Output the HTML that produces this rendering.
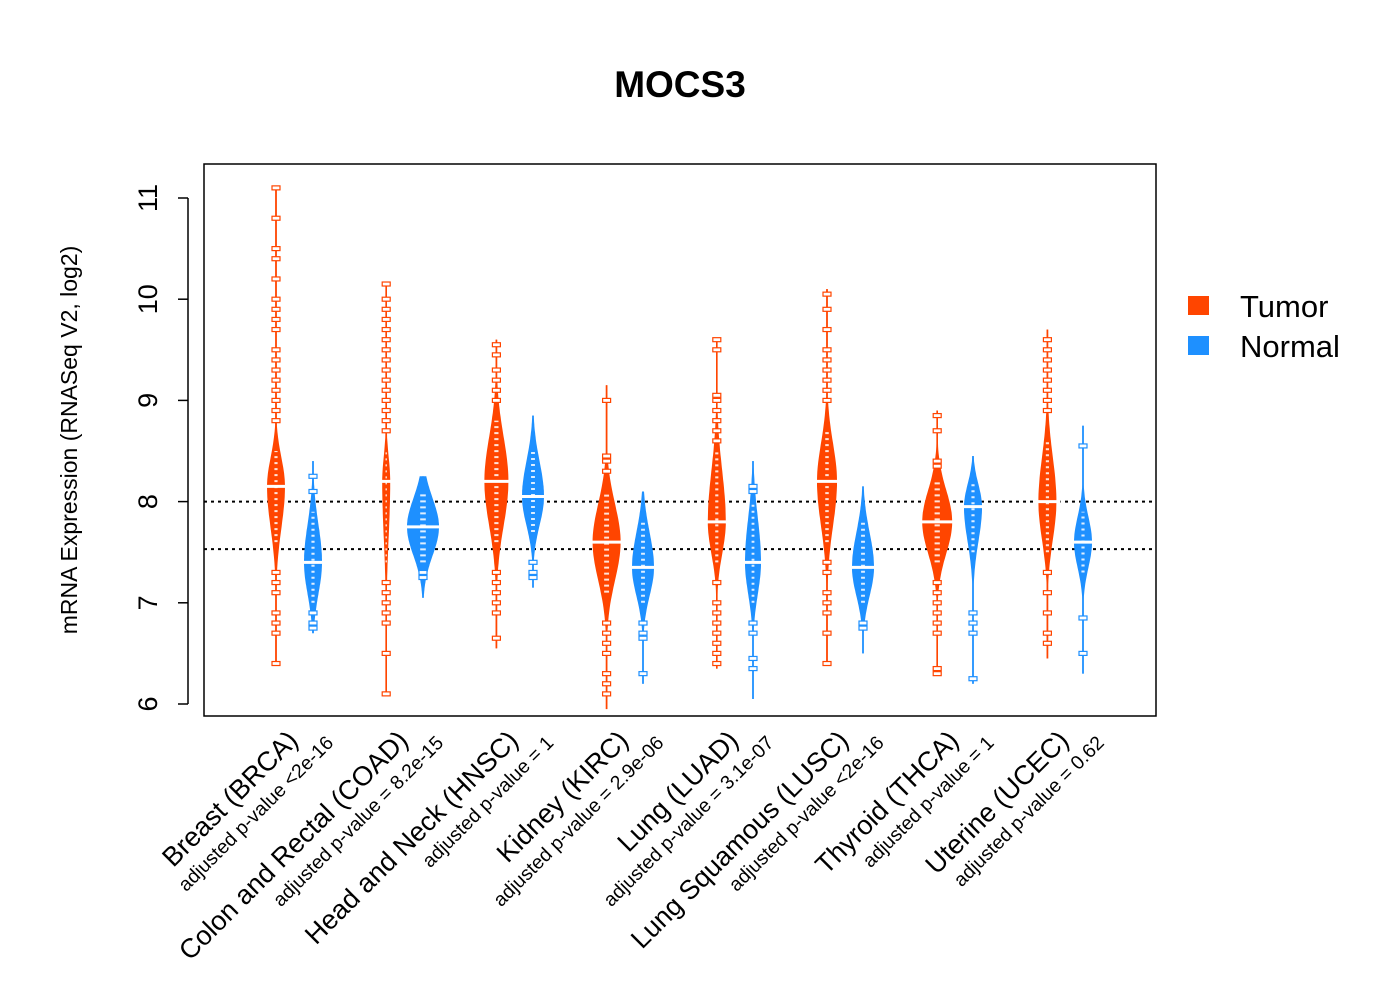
<!DOCTYPE html>
<html><head><meta charset="utf-8"><style>
body{margin:0;background:#fff}
svg{display:block;font-family:"Liberation Sans",Arial,sans-serif}
</style></head><body>
<svg id="chart" width="1400" height="1000" viewBox="0 0 1400 1000">
<rect width="1400" height="1000" fill="#fff"/>
<text x="680" y="97" text-anchor="middle" font-size="37" font-weight="bold">MOCS3</text>
<g id="plot"></g>
<rect x="204" y="164" width="952" height="552" fill="none" stroke="#000" stroke-width="1.5"/>
<text transform="translate(77,440) rotate(-90)" text-anchor="middle" font-size="23">mRNA Expression (RNASeq V2, log2)</text>
<g id="yaxis"></g>
<g id="xlabels"></g>
<g>
<rect x="1188" y="296" width="21" height="19" fill="#ff4500"/>
<text x="1240" y="317" font-size="31">Tumor</text>
<rect x="1188" y="336" width="21" height="19" fill="#1e90ff"/>
<text x="1240" y="357" font-size="31">Normal</text>
</g>
</svg>
<script>
const categories=["Breast (BRCA)","Colon and Rectal (COAD)","Head and Neck (HNSC)","Kidney (KIRC)","Lung (LUAD)","Lung Squamous (LUSC)","Thyroid (THCA)","Uterine (UCEC)"];
const pvalues=["adjusted p-value <2e-16","adjusted p-value = 8.2e-15","adjusted p-value = 1","adjusted p-value = 2.9e-06","adjusted p-value = 3.1e-07","adjusted p-value <2e-16","adjusted p-value = 1","adjusted p-value = 0.62"];
const tumorMin=[6.4,6.1,6.55,5.95,6.35,6.4,6.3,6.45];
const tumorLow=[7.5,7.3,7.5,7.0,7.3,7.5,7.3,7.4];
const tumorMed=[8.15,8.2,8.2,7.6,7.8,8.2,7.8,8.0];
const tumorHigh=[8.6,8.6,8.9,8.2,8.6,8.8,8.3,8.7];
const tumorMax=[11.1,10.15,9.6,9.15,9.6,10.1,8.9,9.7];
const tumorWidth=[9,4,12,14,9,10,15,9];
const normalMin=[6.7,7.05,7.15,6.2,6.05,6.5,6.2,6.3];
const normalLow=[6.9,7.3,7.6,6.9,6.9,6.9,7.4,7.2];
const normalMed=[7.4,7.75,8.05,7.35,7.4,7.35,7.95,7.6];
const normalHigh=[8.0,8.2,8.6,7.9,8.1,7.9,8.3,8.0];
const normalMax=[8.4,8.25,8.85,8.1,8.4,8.15,8.45,8.75];
const normalWidth=[9,16,11,11,8,11,9,9];
const tumorOutliers=[
 [11.1,10.8,10.5,10.4,10.2,10.0,9.9,9.8,9.7,9.5,9.4,9.3,9.2,9.1,9.0,8.9,8.8,7.3,7.2,7.1,6.9,6.8,6.7,6.4],
 [10.15,10.0,9.9,9.8,9.7,9.6,9.5,9.4,9.3,9.2,9.1,9.0,8.9,8.8,8.7,7.2,7.1,7.0,6.9,6.8,6.5,6.1],
 [9.55,9.45,9.3,9.2,9.1,9.0,7.3,7.2,7.1,7.0,6.9,6.65],
 [9.0,8.45,8.4,8.3,6.8,6.7,6.6,6.5,6.3,6.2,6.1],
 [9.6,9.5,9.05,9.0,8.9,8.8,8.7,8.6,7.2,7.0,6.9,6.8,6.7,6.6,6.5,6.4],
 [10.05,9.9,9.7,9.5,9.4,9.3,9.2,9.1,9.0,7.4,7.3,7.1,7.0,6.9,6.7,6.4],
 [8.85,8.7,8.4,8.35,7.2,7.1,7.0,6.9,6.8,6.7,6.35,6.3],
 [9.6,9.5,9.4,9.3,9.2,9.1,9.0,8.9,7.3,7.1,6.9,6.7,6.6]];
const normalOutliers=[
 [8.25,8.1,6.9,6.8,6.75],[7.3,7.25],[7.4,7.3,7.25],[6.8,6.7,6.65,6.3],
 [8.15,8.1,6.8,6.7,6.45,6.35],[6.8,6.75],[6.9,6.8,6.7,6.25],[8.55,6.85,6.5]];
const yTicks=[6,7,8,9,10,11];
const refLines=[8.0,7.53];

const NS="http://www.w3.org/2000/svg";
function yS(v){return 704-(v-6)*101.2;}
function xT(i){return 276+i*110.2;}
function xN(i){return 313+i*110;}
function mk(tag,attrs,parent){const e=document.createElementNS(NS,tag);for(const k in attrs)e.setAttribute(k,attrs[k]);parent.appendChild(e);return e;}
const plot=document.getElementById('plot');
refLines.forEach((v,i)=>{
 const l=mk('line',{x1:204,x2:1156,y1:yS(v),y2:yS(v),stroke:'#000','stroke-width':2,'stroke-dasharray':'3,4'},plot);
 
 
});
function violin(cx,mn,lo,md,hi,mx,w,col,name,outs){
 const g=mk('g',{},plot);
 
 
 mk('line',{x1:cx,x2:cx,y1:yS(mn),y2:yS(mx),stroke:col,'stroke-width':1.5},g);
 const sU=(hi-md)/1.6, sD=(md-lo)/1.6;
 let L=[],R=[];
 for(let k=0;k<=80;k++){
  const v=mn+(mx-mn)*k/80;
  const s=v>md?sU:sD;
  const hw=Math.max(0.8,w*Math.exp(-0.5*((v-md)/s)**2));
  L.push((cx-hw).toFixed(1)+','+yS(v).toFixed(1));
  R.unshift((cx+hw).toFixed(1)+','+yS(v).toFixed(1));
 }
 mk('polygon',{points:L.concat(R).join(' '),fill:col},g);
 outs.forEach(v=>{
  mk('rect',{x:cx-4,y:yS(v)-2,width:8,height:4,fill:'#fff',stroke:col,'stroke-width':1.2},g);
 });
 mk('line',{x1:cx,x2:cx,y1:yS(lo+0.1),y2:yS(hi-0.1),stroke:'#fff','stroke-width':Math.max(1,w*0.35),'stroke-dasharray':'2,4','opacity':0.85},g);
 mk('line',{x1:cx-w-4,x2:cx+w+4,y1:yS(md),y2:yS(md),stroke:'#fff','stroke-width':3},g);
}
categories.forEach((c,i)=>{
 violin(xT(i),tumorMin[i],tumorLow[i],tumorMed[i],tumorHigh[i],tumorMax[i],tumorWidth[i],'#ff4500','violin-tumor-'+i,tumorOutliers[i]);
 violin(xN(i),normalMin[i],normalLow[i],normalMed[i],normalHigh[i],normalMax[i],normalWidth[i],'#1e90ff','violin-normal-'+i,normalOutliers[i]);
});
const ya=document.getElementById('yaxis');
mk('line',{x1:188,x2:188,y1:yS(6),y2:yS(11),stroke:'#000','stroke-width':1.5},ya);
yTicks.forEach(t=>{
 const tk=mk('line',{x1:178,x2:188,y1:yS(t),y2:yS(t),stroke:'#000','stroke-width':1.5},ya);
 
 
 const tx=mk('text',{transform:`translate(157,${yS(t)}) rotate(-90)`,'text-anchor':'middle','font-size':27},ya);
 tx.textContent=t;
 
 
});
const xl=document.getElementById('xlabels');
categories.forEach((c,i)=>{
 const cx=(xT(i)+xN(i))/2;
 const a=mk('text',{transform:`translate(${cx+5},742) rotate(-45)`,'text-anchor':'end','font-size':27},xl);
 a.textContent=c;
 
 
 const b=mk('text',{transform:`translate(${cx+40},744) rotate(-45)`,'text-anchor':'end','font-size':19.5},xl);
 b.textContent=pvalues[i];
 
 
});
</script>
</body></html>
